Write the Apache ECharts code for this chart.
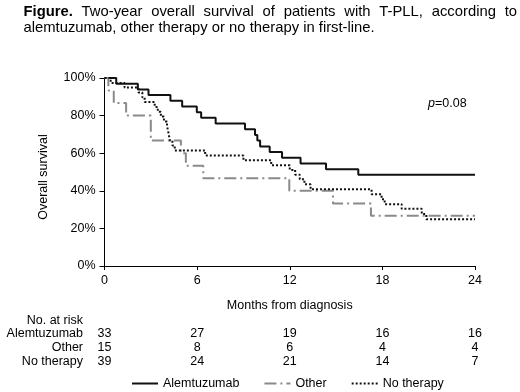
<!DOCTYPE html>
<html><head><meta charset="utf-8">
<script src="https://cdn.jsdelivr.net/npm/echarts@6/dist/echarts.min.js"></script>
<style>html,body{margin:0;padding:0;background:#fff}#c{width:520px;height:392px}</style>
</head><body><div id="c"></div>
<script>
const FONT = '"Liberation Sans", Arial, Helvetica, sans-serif';
const titleLine1 = ["Figure.", "Two-year", "overall", "survival", "of", "patients", "with", "T-PLL,", "according", "to"];
const titleLine2 = "alemtuzumab, other therapy or no therapy in first-line.";
const seriesNames = ["Alemtuzumab", "Other", "No therapy"];
const alemtuzumab = [[0,100],[0.76,97.0],[2.16,93.9],[2.85,90.9],[4.27,87.9],[5.03,84.8],[5.98,81.8],[6.26,78.8],[7.2,75.8],[9.1,72.7],[9.75,69.7],[9.9,66.7],[10.08,63.6],[10.7,60.6],[11.5,57.6],[12.7,54.5],[14.35,51.5],[16.44,48.5],[24,48.5]];
const other = [[0,100],[0.25,93.3],[0.6,86.7],[1.4,80.0],[3.0,66.7],[4.95,60.0],[5.27,53.3],[6.4,46.7],[11.97,40.0],[14.8,33.3],[17.26,26.7],[24,26.7]];
const noTherapy = [[0,100],[0.4,97.4],[1.3,94.9],[2.2,92.3],[2.45,89.7],[2.6,87.2],[3.25,84.6],[3.45,82.1],[3.65,79.5],[3.85,76.9],[4.05,74.4],[4.12,71.8],[4.18,69.2],[4.25,66.7],[4.4,64.1],[4.55,61.5],[6.52,58.8],[9.0,56.2],[10.8,53.6],[12.0,51.1],[12.35,48.6],[12.65,46.1],[12.95,43.5],[13.35,40.8],[17.3,38.2],[17.95,35.5],[18.15,32.9],[19.25,30.4],[20.55,27.6],[20.85,24.9],[24,24.9]];
const riskTimes = [0, 6, 12, 18, 24];
const riskAlemtuzumab = [33, 27, 19, 16, 16];
const riskOther = [15, 8, 6, 4, 4];
const riskNoTherapy = [39, 24, 21, 14, 7];
const riskLabels = ["Alemtuzumab", "Other", "No therapy"];
const pValueText = "=0.08";

const chart = echarts.init(document.getElementById('c'), null, {renderer: 'canvas'});
const FS = 12.5;
const lineStyles = [
  {color: '#111', width: 2, type: 'solid'},
  {color: '#8a8a8a', width: 2, type: [12, 4, 2, 4]},
  {color: '#111', width: 2, type: [2, 2]}
];
chart.setOption({
  animation: false,
  backgroundColor: '#fff',
  textStyle: {fontFamily: FONT},
  grid: {left: 104.5, right: 45, top: 78, bottom: 126, containLabel: false},
  xAxis: {
    type: 'value', min: 0, max: 24, interval: 6,
    name: 'Months from diagnosis', nameLocation: 'middle', nameGap: 33,
    nameTextStyle: {fontFamily: FONT, fontSize: FS, color: '#000'},
    axisLine: {lineStyle: {color: '#000', width: 1}},
    axisTick: {show: true, length: 4, lineStyle: {color: '#000'}},
    axisLabel: {fontFamily: FONT, fontSize: FS, color: '#000', margin: 8},
    splitLine: {show: false}
  },
  yAxis: {
    type: 'value', min: 0, max: 100, interval: 20,
    axisLine: {show: true, lineStyle: {color: '#000', width: 1}},
    axisTick: {show: true, length: 5, lineStyle: {color: '#000'}},
    axisLabel: {fontFamily: FONT, fontSize: FS, color: '#000', margin: 9, formatter: '{value}%'},
    splitLine: {show: false}
  },
  legend: {
    left: 131, top: 377, padding: 0, itemWidth: 26, itemHeight: 12, itemGap: 24,
    textStyle: {fontFamily: FONT, fontSize: FS, color: '#000'},
    data: seriesNames.map((n, i) => ({name: n, lineStyle: lineStyles[i],
      itemStyle: {color: 'rgba(0,0,0,0)', borderWidth: 0, opacity: 0}}))
  },
  series: seriesNames.map((n, i) => ({
    name: n, type: 'line', step: 'end', symbol: 'none', showSymbol: false,
    data: [alemtuzumab, other, noTherapy][i],
    lineStyle: lineStyles[i], itemStyle: {color: lineStyles[i].color}
  }))
});

// Title with justified first line
const ctx = document.createElement('canvas').getContext('2d');
function w(text, bold, size) { ctx.font = (bold ? 'bold ' : '') + size + 'px ' + FONT; return ctx.measureText(text).width; }
const TS = 14.8;
const tx0 = 23.5, tx1 = 517;
const widths = titleLine1.map((t, i) => w(t, i === 0, TS));
const total = widths.reduce((a, b) => a + b, 0);
const gap = (tx1 - tx0 - total) / (titleLine1.length - 1);
const g = [];
let cx = tx0;
titleLine1.forEach((t, i) => {
  g.push({type: 'text', left: cx, top: 4, style: {text: t, font: (i === 0 ? 'bold ' : '') + TS + 'px ' + FONT, fill: '#000'}});
  cx += widths[i] + gap;
});
g.push({type: 'text', left: tx0, top: 20, style: {text: titleLine2, font: TS + 'px ' + FONT, fill: '#000'}});
// y axis title
g.push({type: 'text', x: 43.5, y: 177, rotation: Math.PI / 2,
  style: {text: 'Overall survival', font: FS + 'px ' + FONT, fill: '#000', align: 'center', verticalAlign: 'middle'}});
// p value
g.push({type: 'text', x: 428, y: 104,
  style: {rich: {i: {fontStyle: 'italic', fontSize: FS, fontFamily: FONT, fill: '#000'}, n: {fontSize: FS, fontFamily: FONT, fill: '#000'}},
    text: '{i|p}{n|' + pValueText + '}', verticalAlign: 'middle', align: 'left'}});
// at risk table
g.push({type: 'text', x: 83, y: 321, style: {text: 'No. at risk', font: FS + 'px ' + FONT, fill: '#000', align: 'right', verticalAlign: 'middle'}});
const rows = [riskAlemtuzumab, riskOther, riskNoTherapy];
const rowY = [334, 348, 361.5];
rows.forEach((r, ri) => {
  g.push({type: 'text', x: 83, y: rowY[ri], style: {text: riskLabels[ri], font: FS + 'px ' + FONT, fill: '#000', align: 'right', verticalAlign: 'middle'}});
  r.forEach((v, k) => {
    const px = chart.convertToPixel({xAxisIndex: 0}, riskTimes[k]);
    g.push({type: 'text', x: px, y: rowY[ri], style: {text: String(v), font: FS + 'px ' + FONT, fill: '#000', align: 'center', verticalAlign: 'middle'}});
  });
});
chart.setOption({graphic: g});
</script></body></html>
